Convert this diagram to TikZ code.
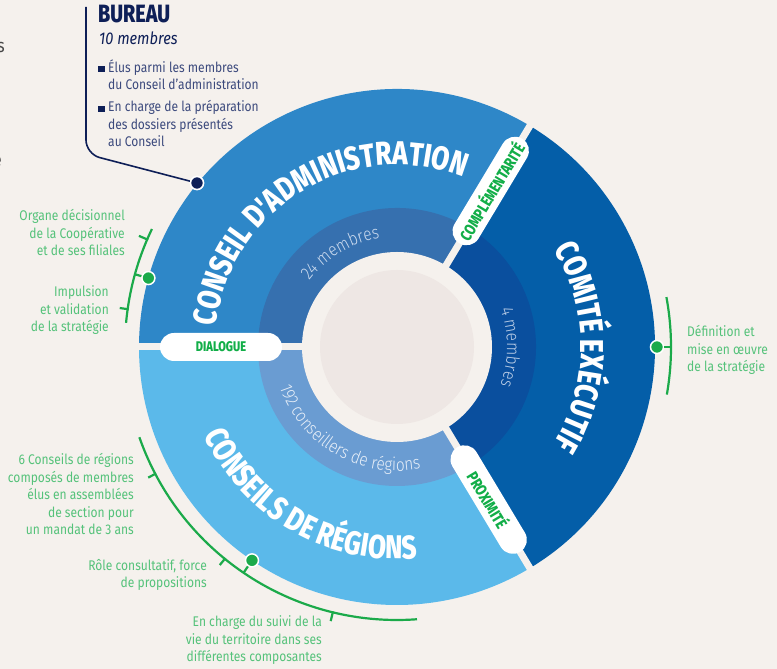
\documentclass[tikz,border=0pt]{standalone}
\usepackage{fontspec}
\usetikzlibrary{decorations.text}
\setmainfont[FakeStretch=0.86]{Fira Sans}
\newfontfamily\dispfont[FakeStretch=0.79, BoldFont={Fira Sans ExtraBold}]{Fira Sans}
\newfontfamily\lightfont[FakeStretch=0.86]{Fira Sans Light}
\definecolor{bgc}{HTML}{F5F1ED}
\definecolor{caout}{HTML}{2E87C8}
\definecolor{cain}{HTML}{3670AF}
\definecolor{ceout}{HTML}{045EA8}
\definecolor{cein}{HTML}{0A4F9E}
\definecolor{crout}{HTML}{5BB9EA}
\definecolor{crin}{HTML}{6A9CD2}
\definecolor{innerc}{HTML}{EEE7E4}
\definecolor{navy}{HTML}{0E1F57}
\definecolor{navytxt}{HTML}{3C4A7D}
\definecolor{gbright}{HTML}{12AE48}
\definecolor{gline}{HTML}{1BAA4A}
\definecolor{gtext}{HTML}{55C27A}
\definecolor{catxt}{HTML}{C9D9EE}
\definecolor{cetxt}{HTML}{B9CCE6}
\definecolor{crtxt}{HTML}{E6EEF8}
\newcommand\bigtxt{\dispfont\bfseries\fontsize{33}{33}\selectfont}
\newcommand\midtxt{\lightfont\fontsize{18}{18}\selectfont}
\tikzset{
  pill/.style={fill=white, rounded corners=14, minimum width=122, minimum height=28, inner sep=0, text=gbright, font=\dispfont\bfseries\fontsize{14}{14}\selectfont},
  gdot/.style={circle, fill=gline, draw=white, line width=1.5, minimum size=13, inner sep=0},
  ndot/.style={circle, fill=navy, draw=white, line width=1.5, minimum size=13, inner sep=0},
  bracket/.style={draw=gline, line width=2.2},
  gnote/.style={text=gtext, font=\fontsize{14}{17.5}\selectfont, inner sep=0},
  bnote/.style={text=navytxt, font=\fontsize{14}{17.5}\selectfont, inner sep=0, anchor=base west, align=left},
  gap/.style={draw=bgc, line width=7},
  sq/.style={fill=navy, minimum size=6.5, inner sep=0},
}
\begin{document}
\begin{tikzpicture}[x=1pt,y=1pt]
\fill[bgc] (0,0) rectangle (777,669);
\useasboundingbox (0,0) rectangle (777,669);

% left-edge fragments
\node[anchor=base east, text=black!72, font=\fontsize{19}{19}\selectfont, inner sep=0] (fs) at (5,616) {s};
\node[anchor=base east, text=black!72, font=\fontsize{19}{19}\selectfont, inner sep=0] (fe) at (2,502) {e};

\begin{scope}[shift={(397,322)}]
  % outer sectors
  \fill[caout] (0,0) -- (59:258) arc[start angle=59,end angle=180,radius=258] -- cycle;
  \fill[ceout] (0,0) -- (-59:258) arc[start angle=-59,end angle=59,radius=258] -- cycle;
  \fill[crout] (0,0) -- (180:258) arc[start angle=180,end angle=301,radius=258] -- cycle;
  % inner rings
  \fill[cain] (0,0) -- (59:139) arc[start angle=59,end angle=180,radius=139] -- cycle;
  \fill[cein] (0,0) -- (-59:139) arc[start angle=-59,end angle=59,radius=139] -- cycle;
  \fill[crin] (0,0) -- (180:139) arc[start angle=180,end angle=301,radius=139] -- cycle;
  % gaps
  \draw[gap] (59:80) -- (59:263);
  \draw[gap] (180:80) -- (180:263);
  \draw[gap] (-59:80) -- (-59:263);
  % centre
  \fill[bgc] (0,0) circle[radius=95];
  \fill[innerc] (0,0) circle[radius=77];

  % big curved titles
  \path[decorate, decoration={text along path, text={|\bigtxt|CONSEIL D'ADMINISTRATION}, text align=center, text color=white}]
    (190:182) arc[start angle=190, end angle=52, radius=182];
  \path[decorate, decoration={text along path, text={|\bigtxt|COMITÉ EXÉCUTIF}, text align=center, text color=white}]
    (45:184) arc[start angle=45, end angle=-45, radius=184];
  \path[decorate, decoration={text along path, text={|\bigtxt|CONSEILS DE RÉGIONS}, text align=center, text color=white}]
    (180:212) arc[start angle=180, end angle=300, radius=212];

  % middle ring texts
  \path[decorate, decoration={text along path, text={|\midtxt|24 membres}, text align=center, text color=catxt}]
    (160:110) arc[start angle=160, end angle=82, radius=110];
  \path[decorate, decoration={text along path, text={|\midtxt|4 membres}, text align=center, text color=cetxt}]
    (40:110) arc[start angle=40, end angle=-40, radius=110];
  \path[decorate, decoration={text along path, text={|\midtxt|192 conseillers de régions}, text align=center, text color=crtxt}]
    (180:124) arc[start angle=180, end angle=300, radius=124];

  % pills
  \node[pill] (pd) at (180:176) {DIALOGUE};
  \node[pill, rotate=59, font=\dispfont\bfseries\fontsize{16}{16}\selectfont] (pc) at (59:182) {COMPLÉMENTARITÉ};
  \node[pill, rotate=-59, font=\dispfont\bfseries\fontsize{16}{16}\selectfont] (pp) at (-59:178) {PROXIMITÉ};

  % green brackets: conseil d'administration
  \draw[bracket] (154.3:272) arc[start angle=154.3, end angle=174.9, radius=272];
  \draw[bracket] (156.7:271) -- (156.7:281);
  \draw[bracket] (172:271) -- (172:280);
  \coordinate (tca) at (164.5:272);
  \node[gdot] (dca) at (164.5:258) {};
  \draw[bracket] (dca) -- (tca);

  % comite executif
  \draw[bracket] (-10:274) arc[start angle=-10, end angle=10.5, radius=274];
  \coordinate (tce) at (0:274);
  \node[gdot] (dce) at (0:260) {};
  \draw[bracket] (dce) -- (tce);

  % conseils de regions
  \draw[bracket] (199.3:273) arc[start angle=199.3, end angle=274.2, radius=273];
  \draw[bracket] (207.7:272) -- (207.7:281);
  \draw[bracket] (230.9:272) -- (230.9:281);
  \draw[bracket] (256.4:272) -- (256.4:282);
  \coordinate (tcr) at (235.8:273);
  \node[gdot] (dcr) at (235.8:258) {};
  \draw[bracket] (dcr) -- (tcr);
\end{scope}

% green notes (anchored at the baseline of the last line)
\node[gnote, anchor=base east, align=right] (n1) at (125,413) {Organe décisionnel\\de la Coopérative\\et de ses filiales};
\node[gnote, anchor=base east, align=right] (n2) at (109,337) {Impulsion\\et validation\\de la stratégie};
\node[gnote, anchor=base west, align=left] (n3) at (687,297) {Définition et\\mise en œuvre\\de la stratégie};
\node[gnote, anchor=base east, align=right] (n4) at (134,134) {6 Conseils de régions\\composés de membres\\élus en assemblées\\de section pour\\un mandat de 3 ans};
\node[gnote, anchor=base east, align=right] (n5) at (207,81) {Rôle consultatif, force\\de propositions};
\node[gnote, anchor=base east, align=right] (n6) at (322,7) {En charge du suivi de la\\vie du territoire dans ses\\différentes composantes};

% bureau
\node[anchor=base west, inner sep=0, text=navy, font=\dispfont\bfseries\fontsize{25}{25}\selectfont] (bt) at (98,646) {BUREAU};
\node[anchor=base west, inner sep=0, text=navy, font=\itshape\fontsize{17}{17}\selectfont] (bm) at (99,624) {10 membres};
\node[sq] (s1) at (101.5,600) {};
\node[sq] (s2) at (101.5,560) {};
\node[bnote] (b1) at (108,579) {Élus parmi les membres\\du Conseil d'administration};
\node[bnote] (b2) at (108,522) {En charge de la préparation\\des dossiers présentés\\au Conseil};
\coordinate (btop) at (86,662);
\node[ndot] (bdot) at (197,486) {};
\draw[navy, line width=1.6, rounded corners=14] (btop) -- (86,515) -- (bdot);
\node[ndot] at (bdot) {};
\end{tikzpicture}
\end{document}
